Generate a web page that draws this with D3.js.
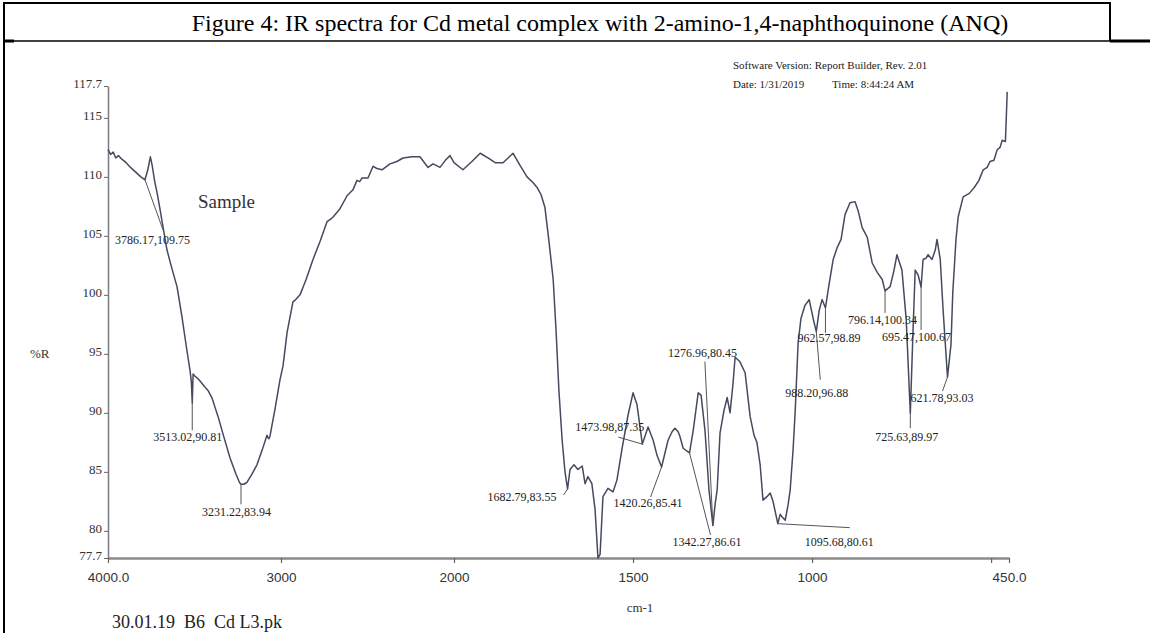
<!DOCTYPE html>
<html><head><meta charset="utf-8">
<script src="https://cdn.jsdelivr.net/npm/d3@7"></script>
<style>html,body{margin:0;padding:0;background:#fff;} svg{display:block;}</style>
</head><body>
<svg id="c" width="1150" height="633"></svg>
<script>
const title = "Figure 4: IR spectra for Cd metal complex with 2-amino-1,4-naphthoquinone (ANQ)";
const headerLine1 = "Software Version: Report Builder, Rev. 2.01";
const headerDate = "Date: 1/31/2019";
const headerTime = "Time: 8:44:24 AM";
const sampleLabel = "Sample";
const yAxisTitle = "%R";
const xAxisTitle = "cm-1";
const fileName = "30.01.19  B6  Cd L3.pk";

const xTickValues = [4000, 3000, 2000, 1500, 1000, 500, 450];
const xTickLabels = ["4000.0", "3000", "2000", "1500", "1000", "", "450.0"];
const yTickValues = [117.7, 115, 110, 105, 100, 95, 90, 85, 80, 77.7];
const yTickLabels = ["117.7", "115", "110", "105", "100", "95", "90", "85", "80", "77.7"];

const wavenumbers = [4000,3985,3970,3955,3940,3920,3895,3870,3840,3810,3786.17,3770,3755,3745,3730,3717,3700,3680,3659,3630,3601,3572,3543,3526,3518,3513.02,3508,3497,3480,3468,3440,3422,3400,3393,3380,3364,3335,3295,3260,3240,3231.22,3215,3197,3168,3139,3110,3081,3070,3064,3035,3006,2988,2965,2931,2915,2890,2855,2815,2775,2734,2715,2699,2659,2618,2584,2561,2545,2532,2497,2468,2445,2416,2370,2330,2295,2243,2197,2150,2121,2081,2050,2023,2000,1975,1950,1927,1905,1885,1863,1849,1835,1816,1796,1779,1768,1757,1746,1735,1723,1715,1707,1698,1690,1682.79,1676,1665,1654,1642,1634,1626,1615,1606,1598,1592,1584,1570,1556,1545,1531,1514,1500,1489,1473.98,1458,1444,1433,1420.26,1402,1391,1383,1374,1369,1360,1342.27,1332,1318,1310,1299,1288,1276.96,1271,1265,1257,1246,1237,1229,1221,1215,1207,1201,1187,1173,1162,1154,1145,1137,1126,1117,1109,1095.68,1089,1084,1075,1067,1061,1053,1047,1039,1031,1020,1008,997,988.20,980,972,962.57,953,941,930,919,908,894,880,872,860,846,832,818,804,796.14,782,771,763,749,737,725.63,718,712,704,695.47,690,682,676,665,656,651,642,634,621.78,612,607,598,592,578,561,547,534,522,511,503,492,483,475,469,460,455];
const reflectance = [112.3,111.9,112.1,111.6,111.8,111.5,111.2,110.8,110.4,110.0,109.75,110.6,111.7,111.0,109.6,108.7,107.3,105.6,103.8,102.2,100.7,98.1,95.2,93.6,92.6,90.81,93.3,93.1,92.9,92.7,92.2,91.9,91.3,91.0,90.4,89.7,88.2,86.2,84.8,84.1,83.94,83.95,84.1,84.8,85.6,86.8,88.1,87.8,88.0,90.3,92.8,94.0,96.8,99.4,99.6,100.0,101.3,103.0,104.5,106.2,106.4,106.6,107.3,108.4,108.9,109.7,109.6,109.9,109.9,110.9,110.7,110.6,111.1,111.3,111.6,111.7,111.7,110.8,111.1,110.8,111.4,111.8,111.2,110.6,111.3,112.0,111.6,111.2,111.2,111.6,112.0,111.0,110.0,109.5,109.1,108.5,107.4,104.6,101.3,97.0,91.9,87.7,85.0,83.55,85.2,85.6,85.2,85.5,84.0,84.6,84.0,81.8,77.7,78.0,82.9,83.6,83.3,84.3,86.9,89.8,91.7,90.7,87.35,88.8,87.7,86.4,85.41,87.7,88.4,88.7,88.4,88.0,87.0,86.61,88.5,91.7,91.5,88.5,83.5,80.45,82.2,83.5,88.3,90.2,91.3,90.0,92.4,94.7,94.5,94.3,93.4,89.7,88.1,87.5,85.6,82.6,82.9,83.2,82.5,80.61,81.4,81.2,80.9,82.2,83.5,86.9,90.2,95.9,98.0,99.1,99.6,98.0,96.88,98.7,99.6,98.89,100.8,103.0,104.0,104.7,106.8,107.8,107.9,107.2,105.7,104.9,102.7,101.9,101.3,100.34,100.7,102.1,103.4,102.1,97.9,89.97,97.0,102.1,101.7,100.67,103.0,103.1,103.4,103.0,103.8,104.7,103.0,98.7,93.03,95.8,100.2,104.7,106.6,108.3,108.6,109.1,109.7,110.6,110.8,111.3,111.4,112.3,112.5,113.1,113.0,117.2];

const peakWavenumbers = [3786.17, 3513.02, 3231.22, 1682.79, 1473.98, 1420.26, 1342.27, 1276.96, 1095.68, 988.20, 962.57, 796.14, 725.63, 695.47, 621.78];
const peakValues = [109.75, 90.81, 83.94, 83.55, 87.35, 85.41, 86.61, 80.45, 80.61, 96.88, 98.89, 100.34, 89.97, 100.67, 93.03];
// label placement: [text dx, text dy, leader end dx, leader end dy] in px relative to the peak
const labelOffsets = [[-30,64,18,50],[-39,38,0,27],[-39,32,0,20],[-80,12,-4,6],[-67,-13,-24,-7],[-48,40,-11,30],[-17,93,21,82],[-45,-169,-8,-164],[27,22,72,4],[-31,65,4,48],[-28,34,0,25],[-37,33,0,22],[-35,28,0,15],[-39,54,0,43],[-37,25,-5,14]];

const svg = d3.select("#c");
svg.append("rect").attr("width",1150).attr("height",633).attr("fill","#fff");

// frame of the table cell
const frame = svg.append("g").attr("stroke","#000").attr("fill","none");
frame.append("line").attr("x1",4).attr("y1",3).attr("x2",1110).attr("y2",3).attr("stroke-width",2);
frame.append("line").attr("x1",4).attr("y1",2).attr("x2",4).attr("y2",633).attr("stroke-width",2);
frame.append("line").attr("x1",1110).attr("y1",2).attr("x2",1110).attr("y2",41).attr("stroke-width",2);
frame.append("line").attr("x1",4).attr("y1",41).attr("x2",1150).attr("y2",41).attr("stroke-width",1.5);
frame.append("line").attr("x1",1110).attr("y1",41).attr("x2",1150).attr("y2",41).attr("stroke-width",3);
frame.append("line").attr("x1",4).attr("y1",41).attr("x2",14).attr("y2",41).attr("stroke-width",3);

svg.append("text").attr("x",600).attr("y",31).attr("text-anchor","middle")
  .attr("font-family","Liberation Serif, Times New Roman, serif").attr("font-size",24).attr("fill","#000").text(title);

const x = d3.scaleLinear().domain([4000, 2000, 450]).range([108, 454, 1009]);
const y = d3.scaleLinear().domain([77.7, 117.7]).range([558, 86]);

// axes
const xAxis = d3.axisBottom(x).tickValues(xTickValues).tickSize(5).tickSizeOuter(0)
  .tickFormat((d,i) => xTickLabels[i]);
const gx = svg.append("g").attr("transform","translate(0,558)").call(xAxis);
gx.select(".domain").attr("stroke","#8a8a8a").attr("stroke-width",2.5);
gx.selectAll(".tick line").attr("stroke","#666").attr("stroke-width",1.2);
gx.selectAll(".tick text").attr("font-family","Liberation Sans, Arial, sans-serif").attr("font-size",13.5)
  .attr("fill","#333").attr("dy","1.2em");

const yAxis = d3.axisLeft(y).tickValues(yTickValues).tickSize(4).tickSizeOuter(0)
  .tickFormat((d,i) => yTickLabels[i]);
const gy = svg.append("g").attr("transform","translate(108,0)").call(yAxis);
gy.select(".domain").attr("stroke","#7a7a80").attr("stroke-width",1.5);
gy.selectAll(".tick line").attr("stroke","#666");
gy.selectAll(".tick text").attr("font-family","Liberation Serif, Times New Roman, serif").attr("font-size",13)
  .attr("fill","#333").attr("dy","0.1em").attr("x",-6);

svg.append("text").attr("x",30).attr("y",y(95)+4).attr("font-family","Liberation Serif, serif")
  .attr("font-size",13).attr("fill","#333").text(yAxisTitle);
svg.append("text").attr("x",640).attr("y",612).attr("text-anchor","middle").attr("font-family","Liberation Serif, serif")
  .attr("font-size",13).attr("fill","#333").text(xAxisTitle);
svg.append("text").attr("x",112).attr("y",628).attr("font-family","Liberation Serif, serif")
  .attr("font-size",18).attr("fill","#222").attr("xml:space","preserve").style("white-space","pre").text(fileName);

// header
const hdr = svg.append("g").attr("font-family","Liberation Serif, serif").attr("font-size",11).attr("fill","#222");
hdr.append("text").attr("x",733).attr("y",69).text(headerLine1);
hdr.append("text").attr("x",733).attr("y",88).text(headerDate);
hdr.append("text").attr("x",832).attr("y",88).text(headerTime);

svg.append("text").attr("x",198).attr("y",208).attr("font-family","Liberation Serif, serif")
  .attr("font-size",19).attr("fill","#333").text(sampleLabel);

// spectrum
const pts = wavenumbers.map((w,i) => [w, reflectance[i]]);
const line = d3.line().x(d => x(d[0])).y(d => y(d[1]));
svg.append("path").datum(pts).attr("d", line).attr("fill","none")
  .attr("stroke","#454a5e").attr("stroke-width",1.5).attr("stroke-linejoin","round");

// peak labels
const peaks = peakWavenumbers.map((w,i) => ({w, v: peakValues[i], o: labelOffsets[i]}));
const pg = svg.append("g");
pg.selectAll("line").data(peaks).join("line")
  .attr("x1", d => x(d.w)).attr("y1", d => y(d.v))
  .attr("x2", d => x(d.w) + d.o[2]).attr("y2", d => y(d.v) + d.o[3])
  .attr("stroke","#555").attr("stroke-width",1);
pg.selectAll("text").data(peaks).join("text")
  .attr("x", d => x(d.w) + d.o[0]).attr("y", d => y(d.v) + d.o[1])
  .attr("font-family","Liberation Serif, serif").attr("font-size",12).attr("fill","#222")
  .text(d => d.w.toFixed(2) + "," + d.v.toFixed(2));
</script>
</body></html>
